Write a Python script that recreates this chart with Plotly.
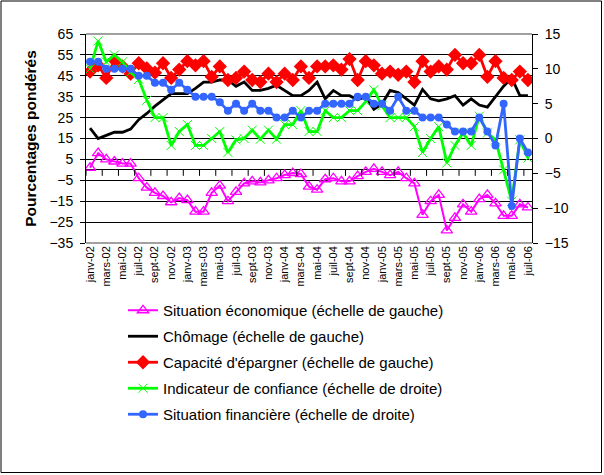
import plotly.graph_objects as go

# months janv-02 .. juil-06
mois_noms = ["janv", "févr", "mars", "avr", "mai", "juin", "juil", "août", "sept", "oct", "nov", "déc"]
mois = []
for an in ["02", "03", "04", "05", "06"]:
    for m in mois_noms:
        mois.append(m + "-" + an)
mois = mois[:55]

# left axis series
situation_eco = [1, 8, 5, 4, 3, 3, -4, -8.5, -11, -12.5, -15.5, -13.5, -14.5, -20, -20, -11, -7.5, -15,
                 -10.5, -6.5, -5.5, -6, -5, -4, -2.5, -1.5, -2, -8, -9.5, -4.5, -4, -5.5, -5.5, -3, -1, 0.5, -1,
                 -2.5, -1, -4, -6.5, -21.5, -15, -12, -29, -23, -16.5, -20, -14, -12, -16, -22, -22, -16.5, -18]
chomage = [20, 15, 16.5, 18, 18, 19.5, 24, 27, 30.5, 33.5, 36.5, 36.5, 36.5, 39, 42, 42, 43, 43,
           40, 42, 38, 38, 39, 40.5, 38, 35.5, 35.5, 38, 42, 34, 38, 35.5, 35.5, 33.5, 35, 29, 31.5,
           38, 37, 34, 31, 38.5, 34, 33, 34, 35.5, 31, 34, 31, 30, 35, 40, 44, 35.5, 35.5]
capacite_epargne = [47, 50, 44, 52.5, 49.5, 46, 51, 48.5, 46.5, 51, 44, 48, 52, 50, 52, 44.5, 49.5, 43,
                    44, 47, 43, 42, 46, 42, 46, 43, 49.5, 44, 49.5, 49.5, 50, 48, 53, 43, 52, 50, 46,
                    47, 45.5, 47, 42, 52, 47, 49.5, 48, 55, 51, 51, 55, 44.5, 52, 44, 43, 47, 43]

# right axis series
indicateur_confiance = [10, 14, 11, 12, 11, 9.5, 8.5, 5.5, 3, 3, -1, 1, 2, -1, -1, 0, 1, -2,
                        -0.2, 0, 1.2, -0.1, 1.2, -0.1, 2, 2, 4, 1, 1, 4, 3, 3, 4, 4, 5.3, 7, 4.7,
                        3, 3, 3, 1.7, -2, 0, 1.7, -3.5, -1, 0.8, -1, 3.2, 0.8, -0.2, -4.5, -9, -0.2, -2.8]
situation_fin = [11, 11, 10, 10, 10, 10, 9, 9, 8, 8, 7, 8, 7, 6, 6, 6, 5.2, 4,
                 5, 4, 5, 4, 4, 3, 3, 4, 3, 4, 4, 5, 5, 5, 5, 6, 6, 5, 5,
                 4, 6, 4, 4, 3, 3, 3, 2, 1, 1, 1, 3, 1, -1, 5, -9.7, 0, -2]

police = "Liberation Sans, Arial, sans-serif"

fig = go.Figure()
fig.add_trace(go.Scatter(x=mois, y=situation_eco, name="Situation économique (échelle de gauche)",
                         legendgroup="a", mode="lines+markers", line=dict(color="#FF00FF", width=2),
                         marker=dict(symbol="triangle-up-open", size=10, color="#FF00FF", line=dict(width=1.3))))
fig.add_trace(go.Scatter(x=mois, y=chomage, name="Chômage (échelle de gauche)",
                         legendgroup="b", mode="lines", line=dict(color="#000000", width=2.8)))
fig.add_trace(go.Scatter(x=mois, y=capacite_epargne, name="Capacité d'épargner (échelle de gauche)",
                         legendgroup="c", mode="lines+markers", line=dict(color="#FF0000", width=2.8),
                         marker=dict(symbol="diamond", size=11, color="#FF0000")))
fig.add_trace(go.Scatter(x=mois, y=indicateur_confiance, name="Indicateur de confiance (échelle de droite)",
                         legendgroup="d", yaxis="y2", mode="lines+markers", line=dict(color="#00FF00", width=2.8),
                         marker=dict(symbol="x-thin", size=9, line=dict(color="#00FF00", width=1))))
fig.add_trace(go.Scatter(x=mois, y=situation_fin, name="Situation financière (échelle de droite)",
                         legendgroup="e", yaxis="y2", mode="lines+markers", line=dict(color="#3366FF", width=2.8),
                         marker=dict(symbol="circle", size=8, color="#3366FF")))

# small tick marks hanging under the zero line, every 2 months
for i in range(0, len(mois) + 1, 2):
    fig.add_shape(type="line", xref="x", yref="y", x0=i - 0.5, x1=i - 0.5,
                  ysizemode="pixel", yanchor=0, y0=0, y1=-6,
                  line=dict(color="black", width=1))

# plot area top/bottom frame (gray) and outer chart border
fig.add_shape(type="line", xref="paper", yref="paper", x0=0, x1=1, y0=1, y1=1,
              line=dict(color="#808080", width=1.5), layer="above")
fig.add_shape(type="line", xref="paper", yref="paper", x0=0, x1=1, y0=0, y1=0,
              line=dict(color="#808080", width=1.5), layer="above")
fig.add_shape(type="rect", xref="paper", yref="paper",
              x0=-85 / 446, x1=515.5 / 446, y0=-229.5 / 209, y1=1 + 33 / 209,
              line=dict(color="black", width=1))

fig.update_layout(
    width=604, height=475,
    margin=dict(l=86, r=72, t=34, b=232),
    paper_bgcolor="white", plot_bgcolor="white",
    font=dict(family=police, color="black", size=13),
    showlegend=True,
    legend=dict(x=0.083, y=-0.244, xanchor="left", yanchor="top",
                font=dict(size=15, family=police), tracegroupgap=3.5,
                itemwidth=30, bgcolor="rgba(0,0,0,0)"),
    xaxis=dict(type="category", tickmode="array", tickvals=mois[::2], tickangle=-90,
               tickfont=dict(size=11), showgrid=False, showline=False, ticks="",
               range=[-0.5, len(mois) - 0.5]),
    yaxis=dict(range=[-35, 65], tick0=-35, dtick=10, showgrid=True, gridcolor="black", gridwidth=1,
               zeroline=True, zerolinecolor="black", zerolinewidth=1,
               showline=True, linecolor="black", linewidth=1, ticks="outside", ticklen=5,
               tickcolor="black", tickfont=dict(size=14), ticklabelstandoff=4,
               title=dict(text="<b>Pourcentages pondérés</b>", font=dict(size=15.5), standoff=9)),
    yaxis2=dict(range=[-15, 15], tick0=-15, dtick=5, overlaying="y", side="right", showgrid=False,
                zeroline=False, showline=True, linecolor="black", linewidth=1, ticks="outside",
                ticklen=5, tickcolor="black", tickfont=dict(size=14), ticklabelstandoff=4),
)

# the page body keeps its default 8px margin otherwise
fig.write_html("out.html", config={"displayModeBar": False},
               post_script="document.body.style.margin='0';")
